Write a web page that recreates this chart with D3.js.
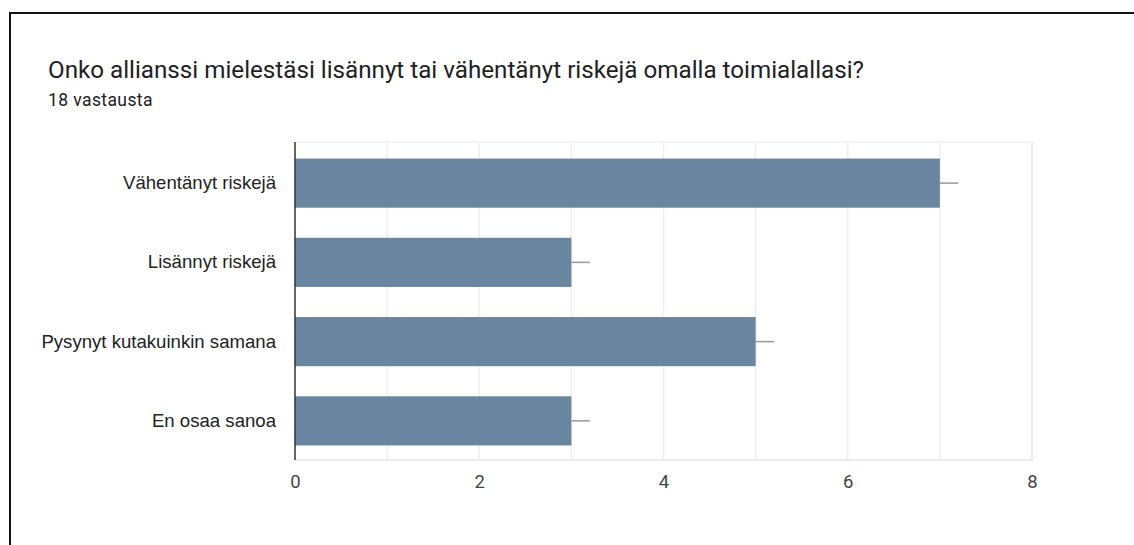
<!DOCTYPE html>
<html>
<head>
<meta charset="utf-8">
<script src="https://cdn.jsdelivr.net/npm/d3@7"></script>
<style>
  html, body { margin: 0; padding: 0; background: #fff; }
  svg { display: block; }
</style>
</head>
<body>
<svg id="chart" width="1134" height="545"></svg>
<script>
// Survey answers: "Onko allianssi mielestäsi lisännyt tai vähentänyt riskejä omalla toimialallasi?"
const categories = ["Vähentänyt riskejä", "Lisännyt riskejä", "Pysynyt kutakuinkin samana", "En osaa sanoa"];
const counts = [7, 3, 5, 3];
const errorMargin = [0.2, 0.2, 0.2, 0.2];
const tickValues = [0, 2, 4, 6, 8];
const gridValues = [1, 2, 3, 4, 5, 6, 7, 8];

const svg = d3.select("#chart");

// Outer frame (top and left edges visible)
svg.append("path")
  .attr("d", "M10,545 L10,13 L1134,13")
  .attr("fill", "none")
  .attr("stroke", "#111")
  .attr("stroke-width", 2);

svg.append("text")
  .attr("x", 48).attr("y", 78)
  .attr("font-family", "Roboto, 'Noto Sans', sans-serif")
  .attr("font-size", 24.2)
  .attr("fill", "#202124")
  .text("Onko allianssi mielestäsi lisännyt tai vähentänyt riskejä omalla toimialallasi?");

svg.append("text")
  .attr("x", 48).attr("y", 106)
  .attr("font-family", "Roboto, 'Noto Sans', sans-serif")
  .attr("font-size", 17.5)
  .attr("letter-spacing", 0.4)
  .attr("fill", "#202124")
  .text("18 vastausta");

const plotLeft = 295, plotRight = 1032, plotTop = 142, plotBottom = 460;

const x = d3.scaleLinear().domain([0, 8]).range([plotLeft, plotRight]);
const y = d3.scaleBand().domain(categories).range([plotTop + 1.5, plotBottom + 0.5]).paddingInner(0.38).paddingOuter(0.19);

// Vertical gridlines
svg.append("g").selectAll("line")
  .data(gridValues)
  .join("line")
  .attr("x1", d => x(d)).attr("x2", d => x(d))
  .attr("y1", plotTop).attr("y2", plotBottom)
  .attr("stroke", d => d === 8 ? "#e6e6e6" : "#efefef")
  .attr("stroke-width", 1.5);

// Top and bottom borders of the plot area
svg.append("line")
  .attr("x1", plotLeft).attr("x2", plotRight).attr("y1", plotTop).attr("y2", plotTop)
  .attr("stroke", "#f0f0f0").attr("stroke-width", 1.5);
svg.append("line")
  .attr("x1", plotLeft).attr("x2", plotRight + 1).attr("y1", plotBottom).attr("y2", plotBottom)
  .attr("stroke", "#e6e6e6").attr("stroke-width", 1.5);

// Bars
svg.append("g").selectAll("rect")
  .data(categories)
  .join("rect")
  .attr("x", x(0))
  .attr("y", d => y(d))
  .attr("width", (d, i) => x(counts[i]) - x(0))
  .attr("height", y.bandwidth())
  .attr("fill", "#6a859f");

// Error whiskers
svg.append("g").selectAll("line")
  .data(categories)
  .join("line")
  .attr("x1", (d, i) => x(counts[i]))
  .attr("x2", (d, i) => x(counts[i] + errorMargin[i]))
  .attr("y1", d => y(d) + y.bandwidth() / 2)
  .attr("y2", d => y(d) + y.bandwidth() / 2)
  .attr("stroke", "#999")
  .attr("stroke-width", 1.5);

// Zero baseline
svg.append("line")
  .attr("x1", x(0)).attr("x2", x(0))
  .attr("y1", plotTop).attr("y2", plotBottom)
  .attr("stroke", "#333").attr("stroke-width", 1.5);

// Category labels
const yAxis = d3.axisLeft(y).tickSize(0).tickPadding(19);
const gy = svg.append("g").attr("transform", `translate(${plotLeft},0)`).call(yAxis);
gy.select(".domain").remove();
gy.selectAll("text")
  .attr("font-family", "'Liberation Sans', Arial, sans-serif")
  .attr("font-size", 18.6)
  .attr("fill", "#222");

// Value axis labels
const xAxis = d3.axisBottom(x).tickValues(tickValues).tickSize(0).tickPadding(15);
const gx = svg.append("g").attr("transform", `translate(0,${plotBottom})`).call(xAxis);
gx.select(".domain").remove();
gx.selectAll("text")
  .attr("font-family", "Roboto, 'Liberation Sans', Arial, sans-serif")
  .attr("font-size", 18.5)
  .attr("fill", "#444");
</script>
</body>
</html>
